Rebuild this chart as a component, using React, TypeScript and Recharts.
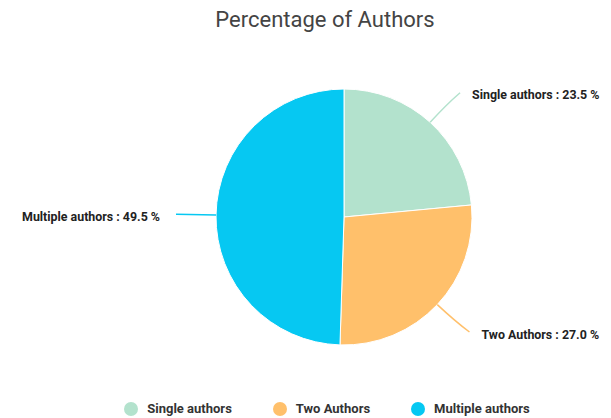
import React from 'react';
import { PieChart, Pie, Cell, Legend } from 'recharts';

const categories = ['Single authors', 'Two Authors', 'Multiple authors'];
const percentages = [23.5, 27.0, 49.5];
const colors = ['#b3e2cd', '#ffc06b', '#06c8f2'];
const chartTitle = 'Percentage of Authors';

const data = categories.map((name, i) => ({ name, value: percentages[i] }));

const RAD = Math.PI / 180;

const renderLabel = (props: any) => {
  const { cx, cy, midAngle, outerRadius, index, payload } = props;
  const cos = Math.cos(-midAngle * RAD);
  const sin = Math.sin(-midAngle * RAD);
  const sx = cx + outerRadius * cos;
  const sy = cy + outerRadius * sin;
  const mx = cx + (outerRadius + 24) * cos;
  const my = cy + (outerRadius + 24) * sin;
  const ex = cx + (outerRadius + 40) * cos + (cos >= 0 ? 3 : 0);
  const ey = cy + (outerRadius + 40) * sin;
  const right = cos >= 0;
  const tx = right ? ex + 12 : ex - 16;
  const v = percentages[index];
  return (
    <g>
      <path
        d={`M${sx},${sy} Q${mx},${my} ${ex},${ey}`}
        stroke={colors[index]}
        strokeWidth={1.5}
        fill="none"
      />
      <text
        x={tx}
        y={ey + 2}
        textAnchor={right ? 'start' : 'end'}
        dominantBaseline="central"
        fontFamily="Roboto, sans-serif"
        fontSize={12.4}
        fontWeight={700}
        fill="#222"
      >
        {`${payload.name} : ${v.toFixed(1)} %`}
      </text>
    </g>
  );
};

const renderLegend = () => {
  return (
    <div style={{ display: 'flex', justifyContent: 'center', alignItems: 'center' }}>
      {categories.map((name, i) => (
        <div key={i} style={{ display: 'flex', alignItems: 'center', marginRight: i < categories.length - 1 ? 41 : 0 }}>
          <svg width={14} height={14} style={{ marginRight: 9 }}>
            <circle cx={7} cy={7} r={7} fill={colors[i]} />
          </svg>
          <span style={{ fontFamily: 'Roboto, sans-serif', fontSize: 13, fontWeight: 700, color: '#333' }}>
            {name}
          </span>
        </div>
      ))}
    </div>
  );
};

export default function App() {
  return (
    <div style={{ position: 'absolute', left: 0, top: 0, width: 611, height: 418, background: '#fff' }}>
      <div
        style={{
          position: 'absolute',
          left: 0,
          top: 6,
          width: 650,
          textAlign: 'center',
          fontFamily: 'Roboto, sans-serif',
          fontSize: 22,
          color: '#444',
          lineHeight: '28px',
        }}
      >
        {chartTitle}
      </div>
      <PieChart
        width={611}
        height={418}
        margin={{ top: 0, right: 0, bottom: 0, left: 0 }}
        style={{ position: 'absolute', left: 0, top: 0 }}
      >
        <Pie
          data={data}
          dataKey="value"
          nameKey="name"
          cx={344}
          cy={217}
          outerRadius={128}
          startAngle={90}
          endAngle={-270}
          stroke="#fff"
          strokeWidth={1}
          label={renderLabel}
          labelLine={false}
          isAnimationActive={false}
        >
          {data.map((_, i) => (
            <Cell key={i} fill={colors[i]} />
          ))}
        </Pie>
        <Legend
          content={renderLegend}
          wrapperStyle={{ position: 'absolute', left: 0, width: 654, top: 401 }}
        />
      </PieChart>
    </div>
  );
}
